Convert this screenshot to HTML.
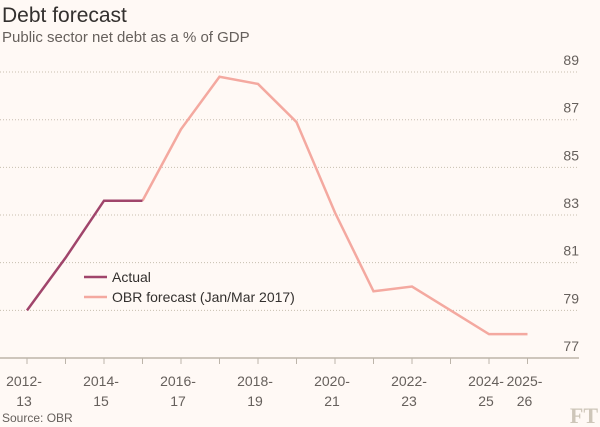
<!DOCTYPE html>
<html><head><meta charset="utf-8"><style>
body{margin:0;background:#fff9f5;}
svg{display:block;font-family:"Liberation Sans",sans-serif;}
</style></head><body>
<svg id="chart" width="600" height="427" viewBox="0 0 600 427">
<rect width="600" height="427" fill="#fff9f5"/>
<text x="2" y="22" font-size="21" fill="#33302e">Debt forecast</text>
<text x="2" y="42" font-size="15" fill="#66605c">Public sector net debt as a % of GDP</text>
<g id="grid"></g><g id="xaxis"></g><g id="series"></g>
<g>
<line x1="84" y1="277" x2="107" y2="277" stroke="#a0456b" stroke-width="2.5"/>
<text x="112" y="282" font-size="14" fill="#33302e">Actual</text>
<line x1="84" y1="297" x2="107" y2="297" stroke="#f4a9a0" stroke-width="2.5"/>
<text x="112" y="302" font-size="14" fill="#33302e">OBR forecast (Jan/Mar 2017)</text>
</g>
<text x="2" y="422" font-size="12" fill="#66605c">Source: OBR</text>
<text x="598" y="423" font-size="22" text-anchor="end" fill="#cec6b9" font-family="Liberation Serif,serif" font-weight="bold">FT</text>
</svg>
<script>
const years=["2012-13","2013-14","2014-15","2015-16","2016-17","2017-18","2018-19","2019-20","2020-21","2021-22","2022-23","2023-24","2024-25","2025-26"];
const actual=[79.0,81.2,83.6,83.6,null,null,null,null,null,null,null,null,null,null];
const forecast=[null,null,null,83.6,86.6,88.8,88.5,86.9,83.1,79.8,80.0,79.0,78.0,78.0];
const yTicks=[77,79,81,83,85,87,89];
const xLabelIdx=[0,2,4,6,8,10,12,13];
const NS="http://www.w3.org/2000/svg";
const X=i=>27+i*38.5;
const Y=v=>358-(v-77)*23.83;
function mk(tag,attrs,parent,txt){const e=document.createElementNS(NS,tag);for(const k in attrs)e.setAttribute(k,attrs[k]);if(txt!=null)e.textContent=txt;parent.appendChild(e);return e;}
const grid=document.getElementById('grid'),xa=document.getElementById('xaxis'),ser=document.getElementById('series');
yTicks.forEach(t=>{
 if(t!==77){const l=mk('line',{x1:0,x2:579,y1:Y(t),y2:Y(t),stroke:'#c8beb0','stroke-dasharray':'1,2','stroke-width':1},grid);
 
 }
 const tx=mk('text',{x:579,y:Y(t)-7,'text-anchor':'end','font-size':14,fill:'#66605c'},grid,t);
 
 
});
const ax=mk('line',{x1:0,x2:579,y1:358,y2:358,stroke:'#bdb5aa','stroke-width':1.5},xa);


years.forEach((y,i)=>{
 const tk=mk('line',{x1:X(i),x2:X(i),y1:358,y2:364,stroke:'#bdb5aa'},xa);
 
 
});
xLabelIdx.forEach(i=>{
 const p=years[i].split('-');
 const t=mk('text',{x:X(i)-3,'text-anchor':'middle','font-size':14,fill:'#66605c'},xa);
 
 
 mk('tspan',{x:X(i)-3,y:386},t,p[0]+'-');
 mk('tspan',{x:X(i)-3,y:406},t,p[1]);
});
function line(arr,color,name){
 const pts=[];arr.forEach((v,i)=>{if(v!=null)pts.push(X(i)+','+Y(v));});
 const pl=mk('polyline',{points:pts.join(' '),fill:'none',stroke:color,'stroke-width':2.5,'stroke-linejoin':'miter'},ser);
 
 
}
line(forecast,'#f4a9a0','forecast-line');
line(actual,'#a0456b','actual-line');
</script>
</body></html>
